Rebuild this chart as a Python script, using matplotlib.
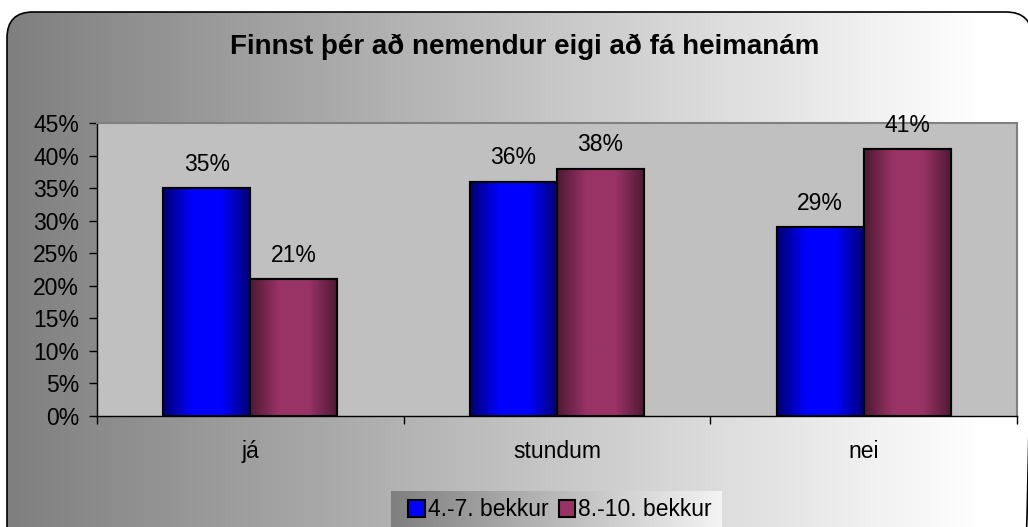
import numpy as np
import matplotlib.pyplot as plt
from matplotlib.patches import FancyBboxPatch, Rectangle
from matplotlib.colors import LinearSegmentedColormap
from matplotlib.ticker import FixedLocator, NullFormatter

plt.rcParams['font.family'] = ['Liberation Sans', 'DejaVu Sans']

title = 'Finnst þér að nemendur eigi að fá heimanám'
categories = ['já', 'stundum', 'nei']
series_names = ['4.-7. bekkur', '8.-10. bekkur']
grade_4_7 = [35, 36, 29]
grade_8_10 = [21, 38, 41]
y_ticks = [0, 5, 10, 15, 20, 25, 30, 35, 40, 45]

W, H = 1028, 527
fig = plt.figure(figsize=(W / 100, H / 100), dpi=100)
fig.patch.set_facecolor('white')

# background: rounded panel with horizontal grey->white gradient
bg = fig.add_axes([0, 0, 1, 1])
bg.set_xlim(0, W)
bg.set_ylim(H, 0)
bg.axis('off')
grad = np.linspace(0, 1, 256).reshape(1, -1)
bg_cmap = LinearSegmentedColormap.from_list('bg', ['#7f7f7f', '#ffffff'])
im = bg.imshow(grad, cmap=bg_cmap, extent=[7, 980, H + 200, 12], aspect='auto', zorder=0)
white = Rectangle((980, 12), 70, H + 200, facecolor='white', edgecolor='none', zorder=0)
bg.add_patch(white)
panel = FancyBboxPatch((7, 12), 1032 - 7, H + 200, boxstyle='round,pad=0,rounding_size=26',
                       facecolor='none', edgecolor='black', lw=1.2, zorder=2)
bg.add_patch(panel)
panel.set_clip_on(False)
im.set_clip_path(panel)
white.set_clip_path(panel)

fig.text(0.51, 1 - 47 / H, title, ha='center', va='center', fontsize=20, fontweight='bold')

# plot area
ax = fig.add_axes([97 / W, 1 - 416 / H, (1017 - 97) / W, (416 - 123) / H])
ax.set_facecolor('#c0c0c0')

x = np.arange(len(categories))
bw = 0.284
blue_cmap = LinearSegmentedColormap.from_list('b', ['#000070', '#0000ff', '#0000ff', '#000070'])
purple_cmap = LinearSegmentedColormap.from_list('p', ['#4d1a33', '#993366', '#993366', '#4d1a33'])
for vals, off, cmap, base in [(grade_4_7, -bw / 2, blue_cmap, '#0000ff'),
                              (grade_8_10, bw / 2, purple_cmap, '#993366')]:
    bars = ax.bar(x + off, vals, width=bw, color=base, edgecolor='black', lw=1.5, zorder=3)
    for b, v in zip(bars, vals):
        x0 = b.get_x()
        ax.imshow(grad, cmap=cmap, extent=[x0, x0 + bw, 0, v], aspect='auto', zorder=3.5)
        ax.add_patch(Rectangle((x0, 0), bw, v, facecolor='none', edgecolor='black', lw=1.5, zorder=4))
        ax.text(x0 + bw / 2, v + 1.9, f'{v}%', ha='center', va='bottom', fontsize=16.5)
ax.set_xlim(-0.5, 2.5)
ax.set_ylim(0, 45)

ax.set_yticks(y_ticks)
ax.set_yticklabels([f'{t}%' for t in y_ticks])
ax.set_xticks(x)
ax.set_xticklabels(categories)
ax.xaxis.set_minor_locator(FixedLocator([-0.5, 0.5, 1.5, 2.5]))
ax.xaxis.set_minor_formatter(NullFormatter())
ax.tick_params(axis='x', which='major', length=0, pad=17, labelsize=16.5)
ax.tick_params(axis='x', which='minor', length=6, width=1, direction='out')
ax.tick_params(axis='y', length=6, width=1, direction='out', labelsize=16.5, pad=7)
for s in ['top', 'right']:
    ax.spines[s].set_color('#808080')
    ax.spines[s].set_linewidth(1.5)
for s in ['left', 'bottom']:
    ax.spines[s].set_color('black')
    ax.spines[s].set_linewidth(1)

# legend with its own gradient box
lx0, ly0, lx1, ly1 = 391, 491, 722, 540
leg_bg = fig.add_axes([lx0 / W, 1 - ly1 / H, (lx1 - lx0) / W, (ly1 - ly0) / H])
leg_bg.axis('off')
leg_bg.imshow(grad, cmap=LinearSegmentedColormap.from_list('l', ['#7f7f7f', '#f4f4f4']),
              extent=[0, 1, 0, 1], aspect='auto')
leg_bg.set_xlim(0, 1)
leg_bg.set_ylim(0, 1)
handles = [Rectangle((0, 0), 1, 1, facecolor=c, edgecolor='black', lw=1.5)
           for c in ['#0000ff', '#993366']]
fig.legend(handles, series_names, loc='center left', bbox_to_anchor=(397 / W, 1 - 510 / H),
           ncol=2, frameon=False, fontsize=16.5, handlelength=0.7, handleheight=0.7,
           handletextpad=0.15, columnspacing=0.45, borderpad=0)

fig.savefig('out.png', dpi=100)
